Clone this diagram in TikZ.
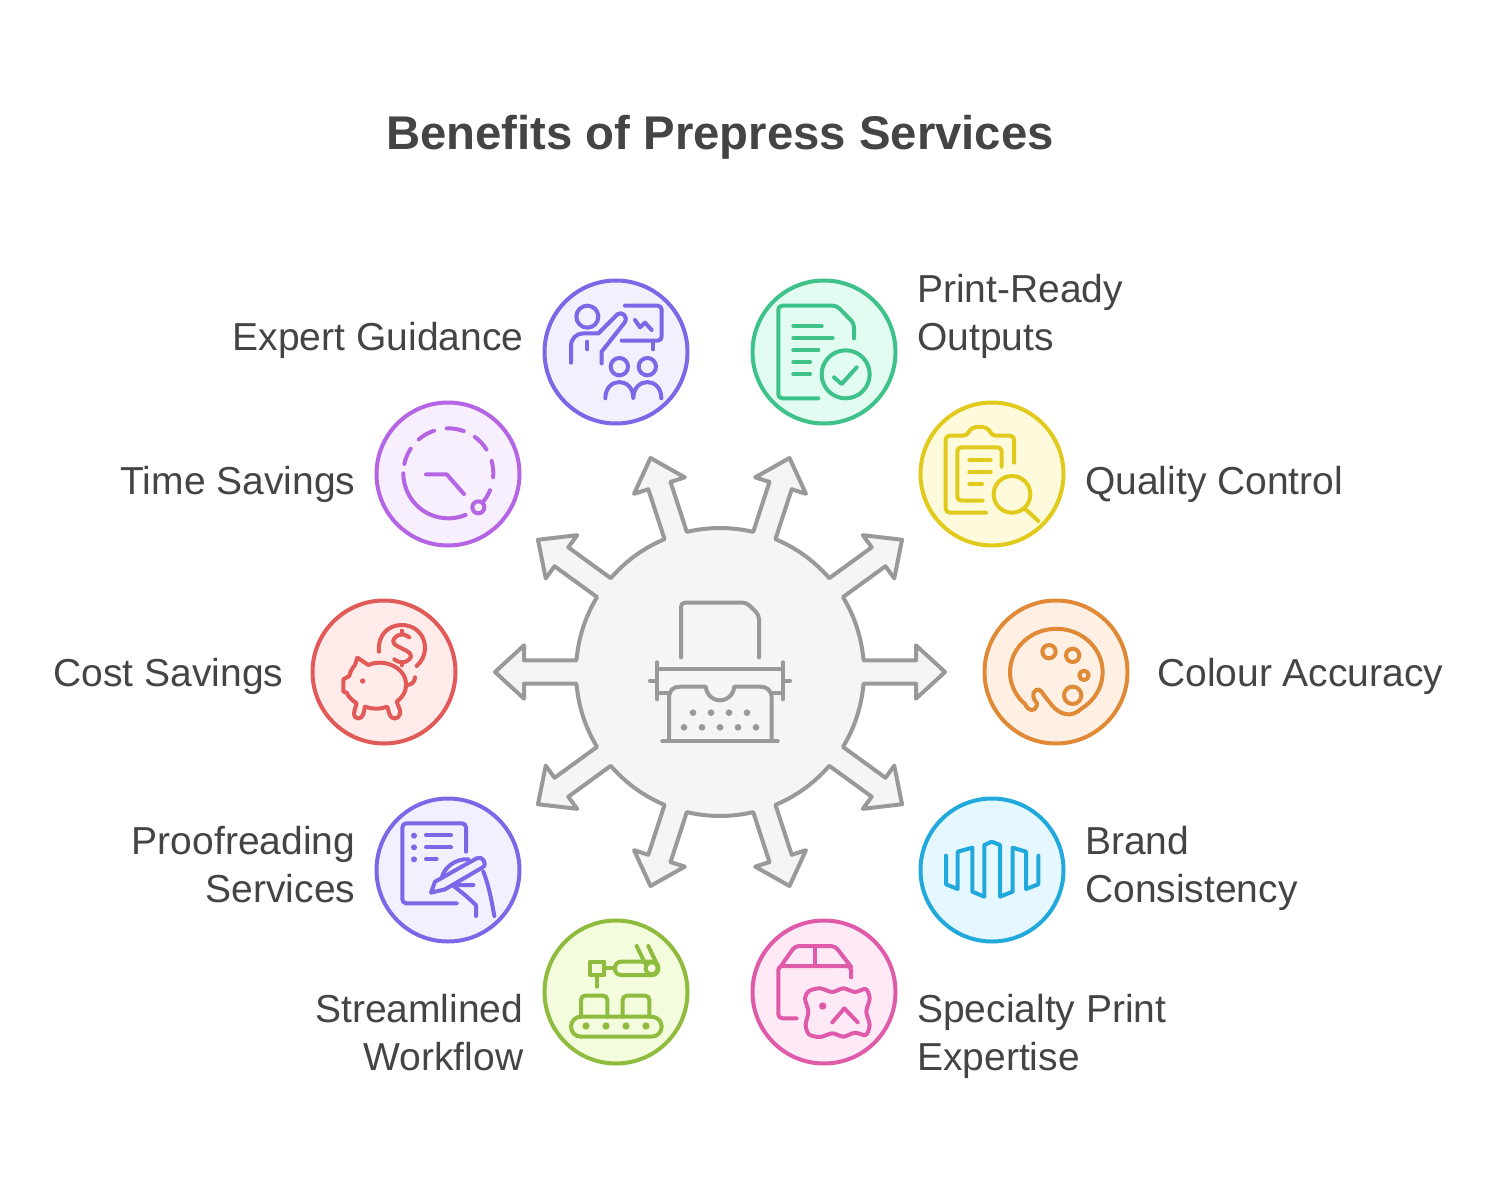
\documentclass[tikz,border=0pt]{standalone}
\usepackage{fontspec}
\setmainfont{Liberation Sans}
\definecolor{inkgrey}{HTML}{444444}
\definecolor{stargrey}{HTML}{999999}
\definecolor{starfill}{HTML}{F5F5F5}
\definecolor{violetline}{HTML}{7B68E6}
\definecolor{violetfill}{HTML}{F2EFFE}
\definecolor{greenline}{HTML}{3FC28A}
\definecolor{greenfill}{HTML}{E3FCF1}
\definecolor{purpleline}{HTML}{B565E3}
\definecolor{purplefill}{HTML}{F8EFFE}
\definecolor{yellowline}{HTML}{E2CA1C}
\definecolor{yellowfill}{HTML}{FEFBDC}
\definecolor{redline}{HTML}{E25A57}
\definecolor{redfill}{HTML}{FFEBEA}
\definecolor{orangeline}{HTML}{E08A38}
\definecolor{orangefill}{HTML}{FFF0E3}
\definecolor{blueline}{HTML}{22A9DC}
\definecolor{bluefill}{HTML}{E5F7FF}
\definecolor{limeline}{HTML}{8FBC3F}
\definecolor{limefill}{HTML}{F3FCDC}
\definecolor{pinkline}{HTML}{E05AAA}
\definecolor{pinkfill}{HTML}{FEEAF6}

\begin{document}
\begin{tikzpicture}
[x=1pt,y=-1pt,line cap=round,line join=round,
badge/.style 2 args={shape=circle,draw=#1,fill=#2,line width=4pt,minimum size=143pt,inner sep=0pt},
lbl/.style={font=\fontsize{39}{48}\selectfont,text=inkgrey,inner sep=0pt},
lblleft/.style={lbl,anchor=east,align=right},
lblright/.style={lbl,anchor=west,align=left},
glyph/.style={line width=4pt,draw=#1,fill=none},
zoomed/.style 2 args={shift={(#1,#2)},scale=1/3}]

\useasboundingbox (0,0) rectangle (1512,1177);

\node[font=\bfseries\fontsize{47.3}{56}\selectfont,text=inkgrey,inner sep=0pt] (title) at (720,137) {Benefits of Prepress Services};

\coordinate (hub) at (720,672);
\begin{scope}[shift={(hub)},y=1pt]
\draw[line width=4pt,draw=stargrey,fill=starfill] (143.5,-11.7)
	\foreach \a in {0,36,...,324} {
		-- ([rotate=\a]196,-11.7) -- ([rotate=\a]196,-26.7) -- ([rotate=\a]225,0)
		-- ([rotate=\a]196,26.7) -- ([rotate=\a]196,11.7) -- ([rotate=\a]143.5,11.7)
		arc[start angle=\a+4.66,delta angle=26.68,radius=144]
	} -- cycle;
\end{scope}

\node[badge={violetline}{violetfill}] (expert) at (616,352) {};
\node[badge={greenline}{greenfill}] (ready) at (824,352) {};
\node[badge={purpleline}{purplefill}] (time) at (448,474) {};
\node[badge={yellowline}{yellowfill}] (quality) at (992,474) {};
\node[badge={redline}{redfill}] (cost) at (384,672) {};
\node[badge={orangeline}{orangefill}] (colour) at (1056,672) {};
\node[badge={violetline}{violetfill}] (proof) at (448,870) {};
\node[badge={blueline}{bluefill}] (brand) at (992,870) {};
\node[badge={limeline}{limefill}] (stream) at (616,992) {};
\node[badge={pinkline}{pinkfill}] (special) at (824,992) {};

\node[lblleft] (expertlbl) at (523.5,340) {Expert Guidance};
\node[lblleft] (timelbl) at (355.5,484) {Time Savings};
\node[lblleft] (costlbl) at (283.5,676) {Cost Savings};
\node[lblleft] (prooflbl) at (355.5,865) {Proofreading\\Services};
\node[lblleft] (streamlbl) at (523.5,1033) {Streamlined\\Workflow};
\node[lblright] (readylbl) at (917,316) {Print-Ready\\Outputs};
\node[lblright] (qualitylbl) at (1085,484) {Quality Control};
\node[lblright] (colourlbl) at (1157,676) {Colour Accuracy};
\node[lblright] (brandlbl) at (1085,868) {Brand\\Consistency};
\node[lblright] (speciallbl) at (917,1036) {Specialty Print\\Expertise};

\begin{scope}[zoomed={480}{440},glyph=stargrey]
\draw[rounded corners=4pt] (603,652) -- (603,488) -- (800,488) -- (837,525) -- (837,652);
\draw (531,667) -- (531,778) (909,667) -- (909,778) (531,687) -- (909,687);
\draw (531,760) -- (570,760) (875,760) -- (909,760) (510,722) -- (531,722) (909,722) -- (930,722);
\draw (567,900) -- (567,775) .. controls (567,750) and (580,740) .. (600,740) -- (677,740)
	.. controls (685,795) and (755,795) .. (763,740) -- (840,740) .. controls (860,740) and (875,750) .. (875,775) -- (875,900);
\draw (547,903) -- (893,903);
\foreach \p in {639,693,747,801} \fill[stargrey] (\p,818) circle[radius=10];
\foreach \p in {612,666,720,774,828} \fill[stargrey] (\p,862) circle[radius=10];
\end{scope}

\begin{scope}[zoomed={530}{270},glyph=violetline]
\draw (172,140) circle[radius=33];
\draw (123,278) -- (123,228) .. controls (123,205) and (140,190) .. (160,190) -- (205,190) -- (262,133)
	.. controls (275,122) and (298,140) .. (282,160) -- (215,245) -- (215,280);
\draw (172,215) -- (172,238) (370,215) -- (370,238);
\draw[rounded corners=4pt] (285,107) -- (395,107) -- (395,212) -- (275,212);
\draw (315,150) -- (330,172) -- (345,158) -- (365,180);
\draw (268,290) circle[radius=26] (352,290) circle[radius=26];
\draw (226,385) .. controls (226,320) and (310,320) .. (310,385) .. controls (310,320) and (394,320) .. (394,385);
\end{scope}

\begin{scope}[zoomed={530}{270},glyph=greenline]
\draw[rounded corners=4pt] (865,385) -- (745,385) -- (745,107) -- (920,107) -- (972,160) -- (972,205);
\draw (790,168) -- (875,168) (790,205) -- (908,205) (790,241) -- (865,241) (790,277) -- (840,277) (790,313) -- (840,313);
\draw (947,313) circle[radius=72];
\draw (912,322) -- (935,342) -- (980,292);
\end{scope}

\begin{scope}[zoomed={300}{390},glyph=purpleline]
\draw (445,250) ++(180:135pt) arc[start angle=180,end angle=292.5,radius=135pt];
\foreach \s/\e in {146.8/168,108.6/131,70/92,32/54,-5/16,-39/-22}
	\draw (445,250) ++(\s:135pt) arc[start angle=\s,end angle=\e,radius=135pt];
\draw (535,352) circle[radius=18];
\draw (378,253) -- (440,253) -- (492,312);
\end{scope}

\begin{scope}[zoomed={910}{390},glyph=yellowline]
\draw[rounded corners=4pt] (312,218) -- (312,137) -- (245,137) .. controls (232,105) and (185,105) .. (172,137) -- (107,137) -- (107,368) -- (228,368);
\draw[rounded corners=4pt] (275,230) -- (275,172) -- (142,172) -- (142,332) -- (218,332);
\draw (178,211) -- (242,211) (178,247) -- (242,247) (178,283) -- (216,283);
\draw (306,313) circle[radius=55];
\draw (347,358) -- (385,393);
\end{scope}

\begin{scope}[zoomed={300}{390},glyph=redline]
\draw (237,785) .. controls (228,680) and (375,680) .. (375,775) .. controls (375,795) and (365,815) .. (350,828);
\draw plot[smooth,tension=0.8] coordinates {(328,742) (305,733) (283,745) (283,762) (305,775) (330,790) (328,808) (305,817) (283,808)};
\draw (305,722) -- (305,733) (305,817) -- (305,826);
\draw (172,803) -- (205,825) .. controls (250,805) and (315,830) .. (318,880) .. controls (320,905) and (305,925) .. (290,935)
	.. controls (295,950) and (303,960) .. (300,972) .. controls (296,990) and (272,990) .. (268,972) -- (262,950)
	.. controls (240,958) and (215,958) .. (195,950) -- (190,972) .. controls (186,990) and (162,990) .. (162,970)
	.. controls (162,960) and (168,950) .. (170,940) .. controls (155,930) and (145,920) .. (140,908)
	-- (130,905) -- (130,868) -- (148,858) .. controls (150,845) and (160,830) .. (165,825) -- cycle;
\draw (320,885) .. controls (335,885) and (345,875) .. (345,862);
\fill[redline] (188,873) circle[radius=8];
\end{scope}

\begin{scope}[zoomed={910}{390},glyph=orangeline]
\draw (346,943) arc[start angle=228,delta angle=-285,x radius=139pt,y radius=130pt]
	.. controls (485,985) and (450,975) .. (425,945) .. controls (410,925) and (400,915) .. (395,905)
	.. controls (385,892) and (368,900) .. (370,920) .. controls (372,935) and (385,935) .. (380,948)
	.. controls (375,965) and (355,965) .. cycle;
\draw (417,785) circle[radius=20] (488,796) circle[radius=20] (522,856) circle[radius=14] (488,916) circle[radius=26];
\end{scope}

\begin{scope}[zoomed={370}{790},glyph=violetline]
\draw[rounded corners=4pt] (288,185) -- (288,100) -- (97,100) -- (97,340) -- (260,340);
\foreach \p in {137,172,208} \fill[violetline] (132,\p) circle[radius=9];
\draw (168,136) -- (243,136) (168,172) -- (243,172) (168,208) -- (200,208);
\draw (183,308) -- (195,275) -- (320,205) .. controls (335,195) and (355,222) .. (338,232) -- (225,298) -- cycle;
\draw (215,265) .. controls (220,235) and (255,205) .. (295,208);
\draw (250,285) -- (310,285) (247,285) -- (285,315) -- (318,345) -- (318,378);
\draw (340,245) .. controls (358,290) and (365,335) .. (373,378);
\end{scope}

\begin{scope}[zoomed={745}{790},glyph=blueline]
\draw (603,197) -- (603,283) -- (638,297) -- (638,185) -- (682,173) -- (682,305) -- (718,320) -- (718,165) -- (740,155) -- (765,165) -- (765,320) -- (803,305) -- (803,173) -- (843,185) -- (843,297) -- (880,283) -- (880,197);
\end{scope}

\begin{scope}[zoomed={370}{790},glyph=limeline]
\draw[rounded corners=10pt] (603,680) rectangle (875,740);
\foreach \p in {648,708,768,828} \fill[limeline] (\p,708) circle[radius=11];
\draw[rounded corners=4pt] (633,680) -- (633,617) -- (712,617) -- (712,680);
\draw[rounded corners=4pt] (758,680) -- (758,617) -- (838,617) -- (838,680);
\draw (660,515) rectangle (703,555);
\draw (682,560) -- (682,590) (703,535) -- (735,535);
\draw[rounded corners=6pt] (735,515) rectangle (865,555);
\draw (845,535) circle[radius=18];
\draw (800,468) -- (825,520) (835,468) -- (862,525);
\end{scope}

\begin{scope}[zoomed={745}{790},glyph=pinkline]
\draw[rounded corners=4pt] (155,685) -- (100,685) -- (100,528) -- (318,528) -- (318,562);
\draw[rounded corners=4pt] (110,525) -- (150,468) -- (270,468) -- (318,530);
\draw (210,468) -- (210,525);
\draw plot[smooth cycle,tension=0.5] coordinates {(192,603) (225,595) (262,606) (295,595) (330,606) (362,597) (374,625) (364,665) (374,705) (362,735) (330,728) (295,740) (262,730) (225,741) (192,733) (182,705) (190,665) (180,625)};
\fill[pinkline] (233,648) circle[radius=11];
\draw (262,697) -- (298,655) -- (338,697);
\end{scope}
\end{tikzpicture}
\end{document}
